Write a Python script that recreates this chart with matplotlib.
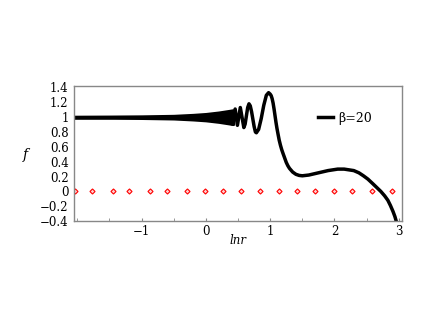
import matplotlib
matplotlib.use("Agg")
import matplotlib.pyplot as plt
from matplotlib.ticker import MultipleLocator

plt.rcParams['font.family'] = ['DejaVu Serif']

# --- dense oscillation band (too fast to resolve, drawn as an envelope) ---
band_x = [-2.05, -1.5, -1.0, -0.5, -0.2, 0.0, 0.2, 0.35, 0.42]
band_upper = [1.003, 1.005, 1.008, 1.015, 1.028, 1.04, 1.06, 1.08, 1.09]
band_lower = [0.997, 0.995, 0.992, 0.985, 0.972, 0.96, 0.94, 0.92, 0.91]

# --- resolved part of the curve ---
curve_x = [0.42, 0.455, 0.49, 0.535, 0.59, 0.61, 0.63, 0.65, 0.67, 0.69, 0.71,
           0.75, 0.77, 0.785, 0.82, 0.86, 0.90, 0.94, 0.975, 1.00, 1.015, 1.03,
           1.045, 1.06, 1.075, 1.09, 1.105, 1.12, 1.14, 1.16, 1.18, 1.20,
           1.225, 1.25, 1.275, 1.30, 1.35, 1.40, 1.45, 1.50, 1.60, 1.75,
           1.90, 2.05, 2.15, 2.30, 2.38, 2.45, 2.52, 2.60, 2.66, 2.72, 2.78,
           2.83, 2.87, 2.91, 2.94, 2.96]
curve_f = [0.91, 1.11, 0.89, 1.13, 0.86, 0.907, 1.02, 1.13, 1.18, 1.152, 1.075,
           0.874, 0.80, 0.79, 0.835, 0.98, 1.16, 1.295, 1.33, 1.31, 1.29, 1.25,
           1.19, 1.11, 1.02, 0.93, 0.85, 0.78, 0.69, 0.62, 0.56, 0.51,
           0.45, 0.39, 0.345, 0.31, 0.26, 0.23, 0.215, 0.21, 0.22, 0.25,
           0.28, 0.30, 0.30, 0.28, 0.25, 0.21, 0.165, 0.10, 0.05, 0.0, -0.06,
           -0.12, -0.19, -0.27, -0.34, -0.40]

# --- red reference points on f = 0 ---
ref_x = [-2.03, -1.77, -1.45, -1.19, -0.875, -0.61, -0.30, -0.02, 0.27, 0.55,
         0.84, 1.14, 1.42, 1.70, 2.0, 2.28, 2.58, 2.89]
ref_f = [0.0] * len(ref_x)

fig = plt.figure(figsize=(4.36, 3.27), dpi=100)
ax = fig.add_axes([0.170, 0.324, 0.752, 0.413])

ax.fill_between(band_x, band_lower, band_upper, color='black',
                edgecolor='black', linewidth=2.5)
ax.plot(curve_x, curve_f, color='black', linewidth=2.5,
        solid_joinstyle='round', label='β=20')
ax.plot(ref_x, ref_f, linestyle='none', marker='D', markersize=2.6,
        markerfacecolor='#ffd0d0', markeredgecolor='red', markeredgewidth=0.8)

ax.set_xlim(-2.05, 3.05)
ax.set_ylim(-0.4, 1.42)
ax.set_xticks([-1, 0, 1, 2, 3])
ax.set_yticks([-0.4, -0.2, 0, 0.2, 0.4, 0.6, 0.8, 1, 1.2, 1.4])
ax.set_yticklabels(['\u22120.4', '\u22120.2', '0', '0.2', '0.4', '0.6', '0.8',
                    '1', '1.2', '1.4'])
ax.set_xticklabels(['\u22121', '0', '1', '2', '3'])
ax.xaxis.set_minor_locator(MultipleLocator(0.5))
ax.tick_params(axis='both', which='both', direction='in', length=2,
               color='#888888', labelsize=8.5, pad=3)
ax.tick_params(axis='y', length=0, pad=4)
for s in ax.spines.values():
    s.set_color('#888888')
    s.set_linewidth(1.0)

fig.text(25 / 436, 1 - 155 / 327, 'f', fontsize=10, style='italic',
         ha='center', va='center')
fig.text(238 / 436, 1 - 240 / 327, 'lnr', fontsize=8.5, style='italic',
         ha='center', va='center')

ax.legend(loc='center left', bbox_to_anchor=(0.745, 0.763), frameon=False,
          fontsize=9, handlelength=1.2, handletextpad=0.4,
          borderpad=0, borderaxespad=0)

fig.savefig('out.png', dpi=100)
